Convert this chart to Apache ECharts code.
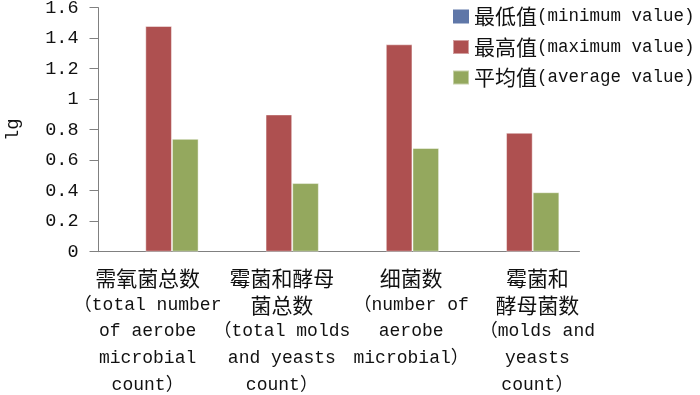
<!DOCTYPE html>
<html>
<head>
<meta charset="utf-8">
<script src="https://cdn.jsdelivr.net/npm/echarts@6/dist/echarts.min.js"></script>
<style>
html, body { margin: 0; padding: 0; background: #fff; }
#main { width: 700px; height: 395px; }
</style>
</head>
<body>
<div id="main"></div>
<script>
var categories = [
	'需氧菌总数\n（total number\nof aerobe\nmicrobial\ncount）',
	'霉菌和酵母\n菌总数\n（total molds\nand yeasts\ncount）',
	'细菌数\n（number of\naerobe\nmicrobial）',
	'霉菌和\n酵母菌数\n（molds and\nyeasts\ncount）'
];
var seriesNames = ['最低值(minimum value)', '最高值(maximum value)', '平均值(average value)'];
var minValues = [0, 0, 0, 0];
var maxValues = [1.48, 0.90, 1.36, 0.78];
var avgValues = [0.74, 0.45, 0.68, 0.39];
var colors = ['#5F77A8', '#AE5050', '#94A85E'];
// 原图标签相对类目中心的水平偏移(px)
var labelShift = [-11, 3, 12, 18];

var monoFont = '"Liberation Mono", "Noto Sans CJK SC", monospace';
var cjkFont = '"Noto Sans CJK SC", sans-serif';
var myChart = echarts.init(document.getElementById('main'));

// 中文行用大一点的字, 英文行用等宽字体
var labelRich = {
	c: { fontFamily: cjkFont, fontSize: 21, lineHeight: 26.7, color: '#111' },
	e: { fontFamily: monoFont, fontSize: 18, lineHeight: 26.7, color: '#111' }
};

var xData = categories.map(function (name, i) {
	var s = labelShift[i];
	return {
		value: name,
		textStyle: { padding: s > 0 ? [0, 0, 0, 2 * s] : [0, -2 * s, 0, 0] }
	};
});

function barSeries(i, values) {
	// 最低值全为0, 不要描边, 否则底部会多出一条线
	var border = i === 0 ? 0 : 1;
	return {
		name: seriesNames[i],
		type: 'bar',
		barGap: 0,
		barCategoryGap: '33.5%',
		itemStyle: { color: colors[i], borderColor: 'rgba(255,255,255,0.45)', borderWidth: border },
		data: values
	};
}

var option = {
	backgroundColor: '#fff',
	animation: false,
	textStyle: { fontFamily: monoFont },
	grid: {
		left: 98.5,
		right: 120.5,
		top: 7.7,
		bottom: 143.3,
		containLabel: false,
		outerBoundsMode: 'none'
	},
	legend: {
		orient: 'vertical',
		left: 447,
		top: 1,
		itemWidth: 16,
		itemHeight: 14,
		itemGap: 9.5,
		icon: 'rect',
		formatter: function (name) {
			var k = name.indexOf('(');
			return '{c|' + name.slice(0, k) + '}{e|' + name.slice(k) + '}';
		},
		textStyle: {
			fontSize: 18,
			color: '#111',
			padding: [0, 0, 0, 0],
			rich: {
				c: { fontFamily: cjkFont, fontSize: 21, lineHeight: 21, color: '#111' },
				e: { fontFamily: monoFont, fontSize: 17.5, lineHeight: 21, color: '#111' }
			}
		},
		data: seriesNames
	},
	xAxis: {
		type: 'category',
		data: xData,
		axisLine: { lineStyle: { color: '#808080', width: 1 } },
		axisTick: { length: 9, lineStyle: { color: '#808080' } },
		axisLabel: {
			interval: 0,
			margin: 13,
			align: 'center',
			formatter: function (v) {
				return v.split('\n').map(function (line) {
					return /[A-Za-z]/.test(line) ? '{e|' + line + '}' : '{c|' + line + '}';
				}).join('\n');
			},
			rich: labelRich
		}
	},
	yAxis: {
		type: 'value',
		min: 0,
		max: 1.6,
		interval: 0.2,
		name: 'lg',
		nameLocation: 'middle',
		nameGap: 76,
		nameTextStyle: { fontFamily: monoFont, fontSize: 19, color: '#111' },
		axisLine: { show: true, lineStyle: { color: '#808080', width: 1 } },
		axisTick: { show: true, length: 9, lineStyle: { color: '#808080' } },
		splitLine: { show: false },
		axisLabel: {
			margin: 20,
			fontFamily: monoFont,
			fontSize: 18.5,
			color: '#111',
			formatter: function (v) { return String(Math.round(v * 10) / 10); }
		}
	},
	series: [
		barSeries(0, minValues),
		barSeries(1, maxValues),
		barSeries(2, avgValues)
	]
};
myChart.setOption(option);
</script>
</body>
</html>
